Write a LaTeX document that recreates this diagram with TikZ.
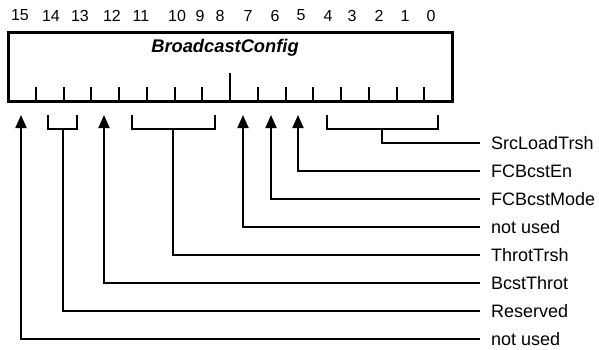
\documentclass[tikz,border=0pt]{standalone}
\usepackage{fontspec}
\setmainfont{Liberation Sans}
\usetikzlibrary{arrows.meta}
\tikzstyle{regbox} = [rectangle, draw=black, line width=3pt, minimum width=444pt, minimum height=69pt, inner sep=0pt]
\tikzstyle{regname} = [inner sep=0pt, font=\fontsize{18.3}{21}\selectfont\bfseries\itshape]
\tikzstyle{bitnum} = [inner sep=0pt, font=\fontsize{16}{19}\selectfont]
\tikzstyle{field} = [anchor=west, inner xsep=11pt, inner ysep=0pt, font=\fontsize{18}{21}\selectfont]
\tikzstyle{bittick} = [line width=2pt]
\tikzstyle{wire} = [line width=2pt]
\tikzstyle{arrow} = [wire, -{Triangle[length=13pt,width=11pt]}]

\begin{document}
\begin{tikzpicture}[x=1pt, y=-1pt]
        \useasboundingbox (0,0) rectangle (599,349);

        \node (reg) [regbox] at (230,66.5) {};
        \node (title) [regname] at (225,48) {BroadcastConfig};

        % bit numbers
        \foreach \x/\b in {20/15,51/14,80/13,112/12,141/11,177/10,200/9,220/8,248/7,275/6,301/5,328/4,352/3,379/2,405/1,431/0}
            \node (n\b) [bitnum] at (\x,15.5) {\b};

        % bit boundaries
        \foreach \i in {1,...,15}
            \draw [bittick] (8+27.75*\i,101) -- (8+27.75*\i,87);
        \draw [bittick] (230,101) -- (230,73);

        \node (srcload) [field] at (480,143) {SrcLoadTrsh};
        \node (fcben) [field] at (480,171) {FCBcstEn};
        \node (fcbmode) [field] at (480,199) {FCBcstMode};
        \node (unused7) [field] at (480,227) {not used};
        \node (throt) [field] at (480,255) {ThrotTrsh};
        \node (bcst) [field] at (480,283) {BcstThrot};
        \node (resvd) [field] at (480,311) {Reserved};
        \node (unused15) [field] at (480,339) {not used};

        \coordinate (b15) at (21,115);
        \coordinate (b12) at (104,115);
        \coordinate (b7) at (243,115);
        \coordinate (b6) at (271,115);
        \coordinate (b5) at (298,115);
        \coordinate (br40) at (382,129);
        \coordinate (br118) at (173,129);
        \coordinate (br1413) at (63,129);

        \draw [wire] (327,115) |- (br40) -| (438,115);
        \draw [wire] (132,115) |- (br118) -| (215,115);
        \draw [wire] (48,115) |- (br1413) -| (77,115);

        \draw [wire] (srcload.west) -| (br40);
        \draw [arrow] (fcben.west) -| (b5);
        \draw [arrow] (fcbmode.west) -| (b6);
        \draw [arrow] (unused7.west) -| (b7);
        \draw [wire] (throt.west) -| (br118);
        \draw [arrow] (bcst.west) -| (b12);
        \draw [wire] (resvd.west) -| (br1413);
        \draw [arrow] (unused15.west) -| (b15);

    \end{tikzpicture}
\end{document}
